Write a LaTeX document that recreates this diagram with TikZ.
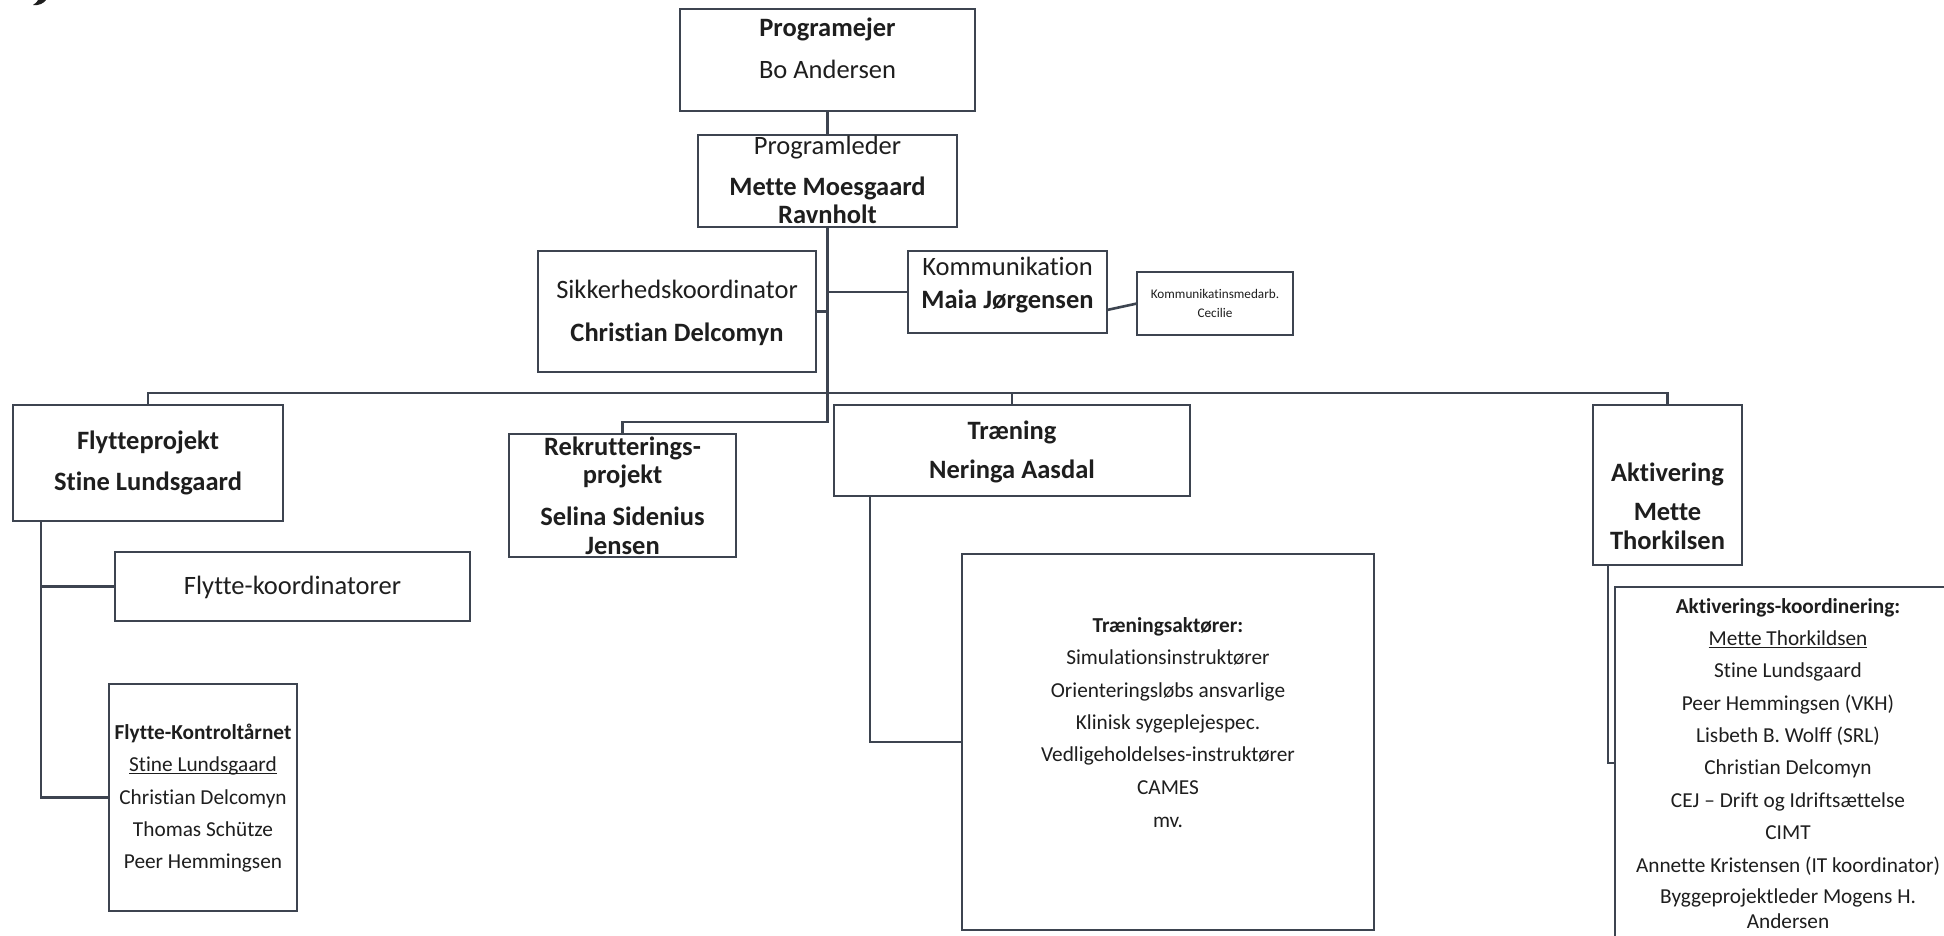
\documentclass[tikz,border=0pt]{standalone}
\usepackage{fontspec}
\setmainfont{Carlito}[Ligatures={NoCommon}]
\usetikzlibrary{calc}
\definecolor{lncol}{HTML}{3D4450}
\definecolor{txcol}{HTML}{1E1E1E}
\newcommand\fmain{\fontsize{26.5}{30}\selectfont}
\newcommand\fsmall{\fontsize{21.3}{24}\selectfont}
\newcommand\ftiny{\fontsize{13.2}{15}\selectfont}
\newcommand\myul[1]{\setbox0\hbox{#1}\rlap{\rule[-2.6pt]{\wd0}{1.3pt}}\box0}
\begin{document}
\begin{tikzpicture}[x=1pt,y=-1pt,
  box/.style={draw=lncol, line width=2.6pt, inner sep=0pt, outer sep=0pt, fill=white},
  conn/.style={draw=lncol, line width=2.6pt, line join=miter},
  tm/.style={anchor=base, inner sep=0pt, yshift=-8.5pt, text=txcol, font=\fmain},
  tmb/.style={tm, font=\fmain\bfseries},
  ts/.style={anchor=base, inner sep=0pt, yshift=-6.8pt, text=txcol, font=\fsmall},
  tsb/.style={ts, font=\fsmall\bfseries},
  tt/.style={anchor=base, inner sep=0pt, yshift=-4.2pt, text=txcol, font=\ftiny},
]
\useasboundingbox (0,0) rectangle (1944,936);
\clip (0,0) rectangle (1944,936);
\fill[white] (0,0) rectangle (1944,936);
% fragment at top left
\fill[black!88] (33,5) .. controls (39,6) and (44,3) .. (46,0) -- (38,0) .. controls (37,2) .. (33,5);

% boxes
\node[box, minimum width=295pt, minimum height=102pt] (pe) at (827.5,60) {};
\node[box, minimum width=259pt, minimum height=92pt] (pl) at (827.5,181) {};
\node[box, minimum width=278pt, minimum height=121pt] (sk) at (677,311.5) {};
\node[box, minimum width=199pt, minimum height=82pt] (km) at (1007.5,292) {};
\node[box, minimum width=156pt, minimum height=63pt] (ce) at (1215,303.5) {};
\node[box, minimum width=270pt, minimum height=116pt] (fp) at (148,463) {};
\node[box, minimum width=355pt, minimum height=69pt] (fk) at (292.5,586.5) {};
\node[box, minimum width=188pt, minimum height=227pt] (kt) at (203,797.5) {};
\node[box, minimum width=227pt, minimum height=123pt] (rk) at (622.5,495.5) {};
\node[box, minimum width=356pt, minimum height=91pt] (tr) at (1012,450.5) {};
\node[box, minimum width=412pt, minimum height=376pt] (ta) at (1168,742) {};
\node[box, minimum width=149pt, minimum height=160pt] (ak) at (1667.5,485) {};
\node[box, minimum width=385pt, minimum height=403pt] (ac) at (1807.5,788.5) {};

% connector coordinates
\coordinate (jR) at (827.5,422);
\coordinate (bl) at (148,393);
\coordinate (br) at (1667.5,393);
\coordinate (fpv) at (41,521);
\coordinate (acin) at (1615,763);

% connectors
\draw[conn] (pe.south) -- (pl.north);
\draw[conn] (pl.south) -- (jR) -| (rk.north);
\draw[conn] (sk.east) -- (sk.east -| pl.south);
\draw[conn] (km.west) -- (km.west -| pl.south);
\draw[conn] ($(km.east)+(0,18)$) -- (ce.west);
\draw[conn] (fp.north) -- (bl) -- (br) -- (ak.north);
\draw[conn] (tr.north) -- (tr.north |- bl);
\draw[conn] (fpv) |- (kt.west);
\draw[conn] (fk.west) -- (fk.west -| fpv);
\draw[conn] ([xshift=36pt]tr.south west) |- (ta.west);
\draw[conn] ([xshift=15pt]ak.south west) |- (acin);

% texts
\node[tmb] (pe1) at (827.5,28) {Programejer};
\node[tm] (pe2) at (827.5,70) {Bo Andersen};
\node[tm] (pl1) at (827.5,146) {Programleder};
\node[tmb] (pl2) at (827.5,187) {Mette Moesgaard};
\node[tmb] (pl3) at (827.5,215) {Ravnholt};
\node[tm] (sk1) at (677,290) {Sikkerhedskoordinator};
\node[tmb] (sk2) at (677,333) {Christian Delcomyn};
\node[tm] (km1) at (1007.5,267) {Kommunikation};
\node[tmb] (km2) at (1007.5,300) {Maia Jørgensen};
\node[tt] (ce1) at (1215,294) {Kommunikatinsmedarb.};
\node[tt] (ce2) at (1215,313) {Cecilie};
\node[tmb] (fp1) at (148,441) {Flytteprojekt};
\node[tmb] (fp2) at (148,482) {Stine Lundsgaard};
\node[tm] (fk1) at (292.5,586) {Flytte-koordinatorer};
\node[tsb] (kt1) at (203,733) {Flytte-Kontroltårnet};
\node[ts] (kt2) at (203,765) {\myul{Stine Lundsgaard}};
\node[ts] (kt3) at (203,798) {Christian Delcomyn};
\node[ts] (kt4) at (203,830) {Thomas Schütze};
\node[ts] (kt5) at (203,862) {Peer Hemmingsen};
\node[tmb] (rk1) at (622.5,447) {Rekrutterings-};
\node[tmb] (rk2) at (622.5,475) {projekt};
\node[tmb] (rk3) at (622.5,517) {Selina Sidenius};
\node[tmb] (rk4) at (622.5,546) {Jensen};
\node[tmb] (tr1) at (1012,431) {Træning};
\node[tmb] (tr2) at (1012,470) {Neringa Aasdal};
\node[tsb] (ta1) at (1168,626) {Træningsaktører:};
\node[ts] (ta2) at (1168,658) {Simulationsinstruktører};
\node[ts] (ta3) at (1168,691) {Orienteringsløbs ansvarlige};
\node[ts] (ta4) at (1168,723) {Klinisk sygeplejespec.};
\node[ts] (ta5) at (1168,755) {Vedligeholdelses-instruktører};
\node[ts] (ta6) at (1168,788) {CAMES};
\node[ts] (ta7) at (1168,821) {mv.};
\node[tmb] (ak1) at (1667.5,473) {Aktivering};
\node[tmb] (ak2) at (1667.5,512) {Mette};
\node[tmb] (ak3) at (1667.5,541) {Thorkilsen};
\node[tsb] (ac1) at (1788,607) {Aktiverings-koordinering:};
\node[ts] (ac2) at (1788,639) {\myul{Mette Thorkildsen}};
\node[ts] (ac3) at (1788,671) {Stine Lundsgaard};
\node[ts] (ac4) at (1788,704) {Peer Hemmingsen (VKH)};
\node[ts] (ac5) at (1788,736) {Lisbeth B. Wolff (SRL)};
\node[ts] (ac6) at (1788,768) {Christian Delcomyn};
\node[ts] (ac7) at (1788,801) {CEJ – Drift og Idriftsættelse};
\node[ts] (ac8) at (1788,833) {CIMT};
\node[ts] (ac9) at (1788,866) {Annette Kristensen (IT koordinator)};
\node[ts] (ac10) at (1788,897) {Byggeprojektleder Mogens H.};
\node[ts] (ac11) at (1788,922) {Andersen};
\end{tikzpicture}
\end{document}
